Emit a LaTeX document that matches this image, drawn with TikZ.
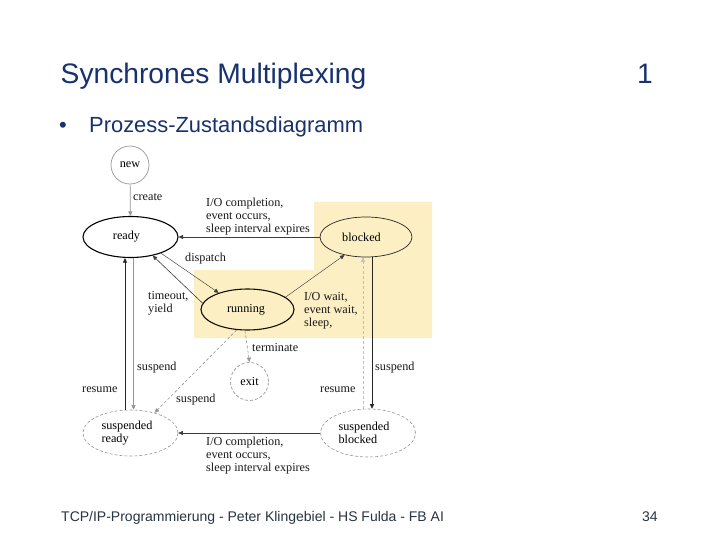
\documentclass[tikz,border=0pt]{standalone}
\usepackage{fontspec}
\setmainfont{Liberation Sans}
\newfontfamily\diafont{Liberation Serif}
\usetikzlibrary{arrows.meta,shapes.geometric}
\definecolor{titleblue}{RGB}{24,50,110}
\definecolor{footgray}{RGB}{40,52,66}
\definecolor{hilite}{RGB}{252,239,195}
\definecolor{lingray}{RGB}{60,60,60}
\definecolor{ltgray}{RGB}{150,150,150}
\tikzset{
  state/.style={ellipse, draw=black, line width=1.1pt, inner sep=0pt, font=\diafont\fontsize{12.2}{13}\selectfont},
  thinstate/.style={ellipse, draw=black!85, line width=0.7pt, inner sep=0pt, font=\diafont\fontsize{12.2}{13}\selectfont},
  susstate/.style={ellipse, draw=ltgray, dashed, dash pattern=on 3pt off 2pt, line width=0.6pt, inner sep=0pt, align=left, font=\diafont\fontsize{12.2}{13}\selectfont},
  circstate/.style={circle, draw=ltgray, line width=0.7pt, inner sep=0pt, minimum size=38pt, font=\diafont\fontsize{12.2}{13}\selectfont},
  lbl/.style={anchor=west, inner sep=0pt, align=left, text=black!90, font=\diafont\fontsize{12.2}{13}\selectfont},
  tip/.style={-{Triangle[length=4.5pt,width=4pt]}},
  edge/.style={tip, draw=lingray, line width=0.6pt},
  ledge/.style={tip, draw=ltgray, line width=0.7pt},
  dedge/.style={tip, draw=ltgray, line width=0.6pt, dash pattern=on 3pt off 2pt},
}
\begin{document}
\begin{tikzpicture}[x=1pt,y=-1pt]
\useasboundingbox (0,0) rectangle (720,540);
\fill[white] (0,0) rectangle (720,540);
% header and footer
\node[anchor=base west, inner sep=0pt, text=titleblue, font=\fontsize{28.2}{32}\selectfont] (title) at (60.5,83.5) {Synchrones Multiplexing};
\node[anchor=base west, inner sep=0pt, text=titleblue, font=\fontsize{28.2}{32}\selectfont] (pnum) at (637,83.5) {1};
\node[anchor=base west, inner sep=0pt, text=titleblue, font=\fontsize{21.9}{24}\selectfont] (bullet) at (59,133) {•};
\node[anchor=base west, inner sep=0pt, text=titleblue, font=\fontsize{21.9}{24}\selectfont] (sub) at (89,133) {Prozess-Zustandsdiagramm};
\node[anchor=base west, inner sep=0pt, text=footgray, font=\fontsize{14}{16}\selectfont] (foot) at (61,521) {TCP/IP-Programmierung - Peter Klingebiel - HS Fulda - FB AI};
\node[anchor=base west, inner sep=0pt, text=footgray, font=\fontsize{14}{16}\selectfont] (fnum) at (642,521) {34};
% highlight
\fill[hilite] (314,202) -- (432,202) -- (432,338) -- (194,338) -- (194,270) -- (314,270) -- cycle;
% states
\node[circstate] (new) at (130,165) {new};
\node[state, minimum width=95pt, minimum height=41pt] (ready) at (130.5,237) {ready\hspace*{8pt}};
\node[thinstate, minimum width=92pt, minimum height=40pt] (blocked) at (366,237) {blocked\hspace*{9pt}};
\node[state, draw=black!90!brown, minimum width=93pt, minimum height=41pt] (running) at (247.5,309.5) {running\hspace*{3pt}};
\node[circstate, dashed, dash pattern=on 3pt off 2pt] (exit) at (249.5,381.5) {exit};
\node[susstate, minimum width=95pt, minimum height=46pt] (sready) at (130.5,433) {suspended\hspace*{7pt}\\ready};
\node[susstate, minimum width=95pt, minimum height=48pt] (sblocked) at (368,433) {suspended\hspace*{8pt}\\blocked};
% connectors
\draw[ledge] (new) -- (ready);
\draw[edge] (blocked.west) -- (ready.east);
\draw[edge, line width=0.45pt] (ready.-28) -- (running.150);
\draw[edge] (running.172) -- (ready.-40);
\draw[edge, line width=0.45pt] (running.18) -- (blocked.-140);
\draw[dedge] (running.-97) -- (exit.north);
\draw[dedge] (running.-118) -- (sready.40);
\draw[edge, draw=black!85] (sready.north -| 125,0) -- (ready.south -| 125,0);
\draw[ledge] (ready.south -| 133.5,0) -- (sready.north -| 133.5,0);
\draw[edge, draw=black!85] (blocked.south -| 372,0) -- (sblocked.north -| 372,0);
\draw[dedge, draw=black!25] (sblocked.north -| 363,0) -- (blocked.south -| 363,0);
\draw[edge] (sblocked.west) -- (sready.east);
% labels
\node[lbl] (lcreate) at (133,197) {create};
\node[lbl] (lio1) at (206,216.5) {I/O completion,\\event occurs,\\sleep interval expires};
\node[lbl] (ldispatch) at (185,259) {dispatch};
\node[lbl] (ltimeout) at (148,303.5) {timeout,\\yield};
\node[lbl] (lwait) at (304,310.5) {I/O wait,\\event wait,\\sleep,};
\node[lbl] (lterm) at (252,348) {terminate};
\node[lbl] (lsusp1) at (137,368) {suspend};
\node[lbl] (lres1) at (82,390) {resume};
\node[lbl] (lsusp2) at (176,400) {suspend};
\node[lbl] (lres2) at (320,390) {resume};
\node[lbl] (lsusp3) at (375,368) {suspend};
\node[lbl] (lio2) at (206,455.5) {I/O completion,\\event occurs,\\sleep interval expires};
\end{tikzpicture}
\end{document}
